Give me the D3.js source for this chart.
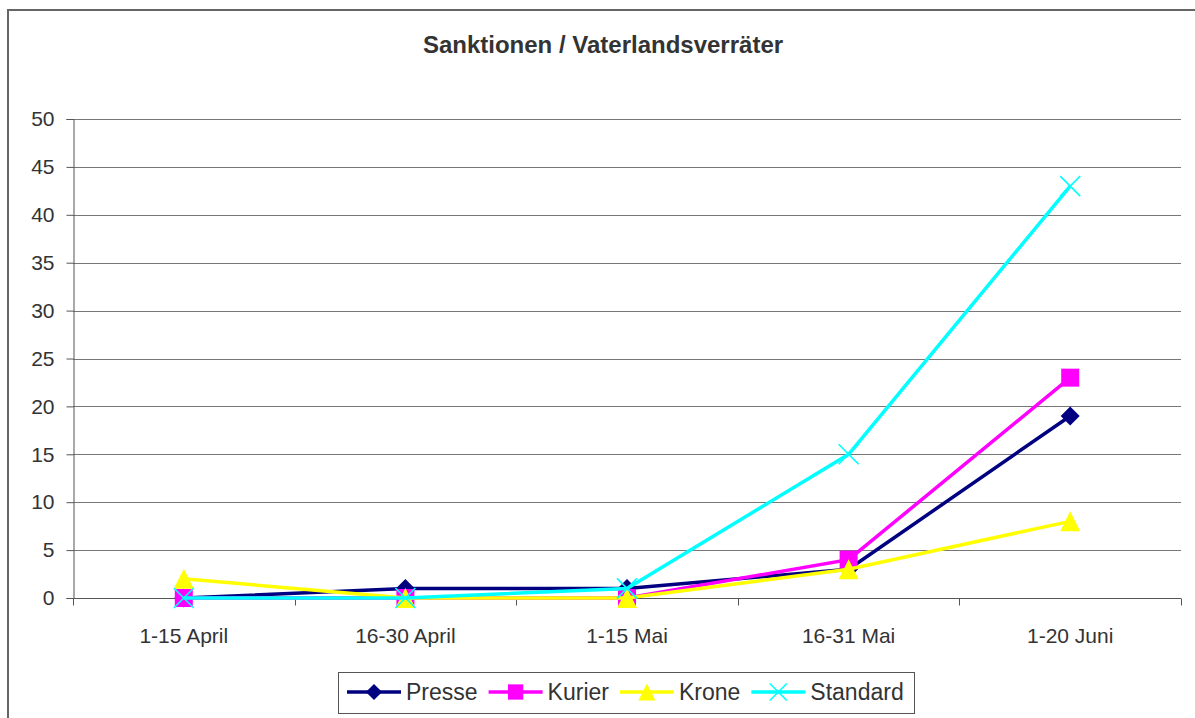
<!DOCTYPE html>
<html>
<head>
<meta charset="utf-8">
<script src="https://cdn.jsdelivr.net/npm/d3@7"></script>
<style>
body { margin: 0; background: #fff; }
text { font-family: "Liberation Sans", Arial, sans-serif; fill: #333; }
</style>
</head>
<body>
<div id="chart"></div>
<script>
var width = 1195,
    height = 718;

var categories = ["1-15 April", "16-30 April", "1-15 Mai", "16-31 Mai", "1-20 Juni"];
var presse = [0, 1, 1, 3, 19];
var kurier = [0, 0, 0, 4, 23];
var krone = [2, 0, 0, 3, 8];
var standard = [0, 0, 1, 15, 43];
var yTicks = [0, 5, 10, 15, 20, 25, 30, 35, 40, 45, 50];

var series = [
  {name: "Presse", values: presse, color: "#000080", symbol: "diamond"},
  {name: "Kurier", values: kurier, color: "#ff00ff", symbol: "square"},
  {name: "Krone", values: krone, color: "#ffff00", symbol: "triangle"},
  {name: "Standard", values: standard, color: "#00ffff", symbol: "cross"}
];

var svg = d3.select("#chart").append("svg")
  .attr("width", width)
  .attr("height", height);

// outer chart frame
svg.append("rect")
  .attr("x", 8).attr("y", 10)
  .attr("width", 1200).attr("height", 720)
  .attr("fill", "none")
  .attr("stroke", "#666")
  .attr("stroke-width", 2);

svg.append("text")
  .attr("x", 603).attr("y", 53)
  .attr("text-anchor", "middle")
  .style("font-size", "24px")
  .style("font-weight", "bold")
  .text("Sanktionen / Vaterlandsverräter");

var plotL = 73, plotR = 1181, plotT = 119, plotB = 598;

var x = d3.scaleBand().domain(categories).range([plotL, plotR]);
var y = d3.scaleLinear().domain([0, 50]).range([plotB, plotT]);

// grid
svg.append("g").selectAll("line")
  .data(yTicks.slice(1))
  .enter().append("line")
  .attr("x1", plotL).attr("x2", plotR)
  .attr("y1", function(d){ return Math.round(y(d)) + 0.5 })
  .attr("y2", function(d){ return Math.round(y(d)) + 0.5 })
  .attr("stroke", "#777")
  .attr("stroke-width", 1);

// y axis
svg.append("g")
  .attr("transform", "translate(" + (plotL + 0.5) + ",0)")
  .call(d3.axisLeft(y).tickValues(yTicks).tickSize(7).tickPadding(12))
  .call(function(g){
    g.select(".domain").attr("stroke", "#555");
    g.selectAll(".tick line").attr("stroke", "#555");
    g.selectAll("text").style("font-size", "21px").attr("fill", "#333")
      .style("font-family", "Liberation Sans, Arial, sans-serif");
  });

// x axis
var xg = svg.append("g")
  .attr("transform", "translate(0," + (plotB + 0.5) + ")");
xg.append("line")
  .attr("x1", plotL).attr("x2", plotR)
  .attr("stroke", "#555");
var bounds = categories.map(function(c){ return x(c) }).concat([plotR]);
xg.selectAll("line.tk").data(bounds).enter().append("line")
  .attr("class", "tk")
  .attr("x1", function(d){ return Math.round(d) + 0.5 })
  .attr("x2", function(d){ return Math.round(d) + 0.5 })
  .attr("y1", 0).attr("y2", 7)
  .attr("stroke", "#555");
xg.selectAll("text").data(categories).enter().append("text")
  .attr("x", function(d){ return x(d) + x.bandwidth() / 2 })
  .attr("y", 44)
  .attr("text-anchor", "middle")
  .style("font-size", "21px")
  .text(function(d){ return d });

var line = d3.line()
  .x(function(d, i){ return x(categories[i]) + x.bandwidth() / 2 })
  .y(function(d){ return y(d) });

function drawMarker(g, s, cx, cy, scale) {
  scale = scale || 1;
  if (s.symbol == "diamond") {
    var r = 9.5 * scale;
    g.append("path")
      .attr("d", "M" + cx + "," + (cy - r) + "L" + (cx + r) + "," + cy + "L" + cx + "," + (cy + r) + "L" + (cx - r) + "," + cy + "Z")
      .attr("fill", s.color);
  } else if (s.symbol == "square") {
    var h = 9 * scale;
    g.append("rect")
      .attr("x", cx - h).attr("y", cy - h)
      .attr("width", 2 * h).attr("height", 2 * h)
      .attr("fill", s.color);
  } else if (s.symbol == "triangle") {
    var t = 10 * scale;
    g.append("path")
      .attr("d", "M" + cx + "," + (cy - t) + "L" + (cx + t) + "," + (cy + t) + "L" + (cx - t) + "," + (cy + t) + "Z")
      .attr("fill", s.color);
  } else {
    var c = 10 * scale;
    g.append("path")
      .attr("d", "M" + (cx - c) + "," + (cy - c) + "L" + (cx + c) + "," + (cy + c) + "M" + (cx + c) + "," + (cy - c) + "L" + (cx - c) + "," + (cy + c))
      .attr("stroke", s.color)
      .attr("stroke-width", 1.6)
      .attr("fill", "none");
  }
}

series.forEach(function(s){
  var g = svg.append("g");
  g.append("path")
    .datum(s.values)
    .attr("d", line)
    .attr("fill", "none")
    .attr("stroke", s.color)
    .attr("stroke-width", 3.5);
  s.values.forEach(function(v, i){
    drawMarker(g, s, x(categories[i]) + x.bandwidth() / 2, y(v));
  });
});

// legend
var lg = svg.append("g");
lg.append("rect")
  .attr("x", 338.5).attr("y", 672.5)
  .attr("width", 576).attr("height", 41)
  .attr("fill", "#fff")
  .attr("stroke", "#555");
var lx = 347;
series.forEach(function(s, i){
  var item = lg.append("g");
  item.append("line")
    .attr("x1", lx).attr("x2", lx + 54)
    .attr("y1", 692).attr("y2", 692)
    .attr("stroke", s.color)
    .attr("stroke-width", 3.5);
  drawMarker(item, s, lx + 27, 692, 0.85);
  var t = item.append("text")
    .attr("x", lx + 59)
    .attr("y", 700)
    .style("font-size", "23px")
    .text(s.name);
  lx += 59 + t.node().getComputedTextLength() + 11;
});
</script>
</body>
</html>
